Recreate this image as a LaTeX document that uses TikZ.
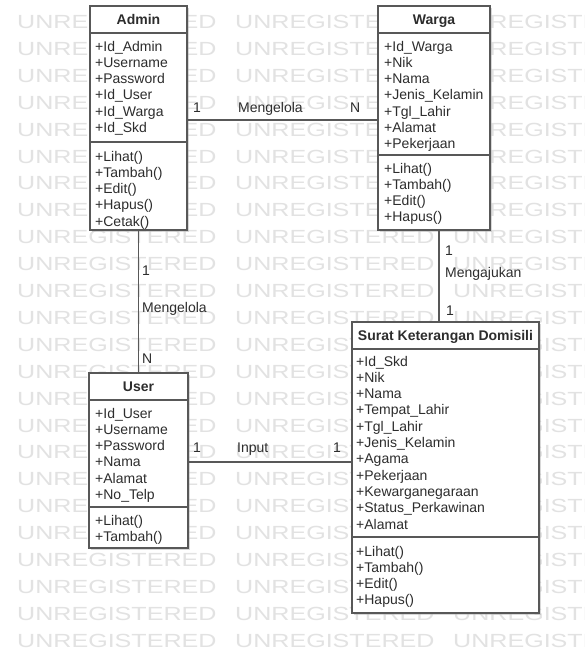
\documentclass[tikz,border=0pt]{standalone}
\usepackage{fontspec}
\setmainfont{Liberation Sans}
\usepackage{graphicx}
\usetikzlibrary{calc,shadows}

\definecolor{wmark}{RGB}{226,226,226}
\definecolor{edge}{RGB}{88,88,88}
\definecolor{ink}{RGB}{45,45,45}

\tikzset{
  classbox/.style={draw=edge, line width=1.3pt, fill=white, inner sep=0pt,
    outer sep=0pt, anchor=north west,
    drop shadow={shadow xshift=2pt, shadow yshift=-2pt, fill=black!30, opacity=0.5}},
  sepline/.style={draw=edge, line width=1.2pt},
  assoc/.style={draw=edge, line width=1.2pt},
  classtitle/.style={font=\fontsize{14pt}{16pt}\selectfont\bfseries, text=ink,
    inner sep=0pt, anchor=base},
  member/.style={font=\fontsize{14pt}{16pt}\selectfont, text=ink,
    inner sep=0pt, anchor=base west},
  rolelabel/.style={member},
  wm/.style={font=\fontsize{19pt}{21pt}\selectfont, text=wmark,
    inner sep=0pt, anchor=base west},
}

\begin{document}
\begin{tikzpicture}[x=1pt,y=-1pt]
\useasboundingbox (0,0) rectangle (585,657);
\fill[white] (0,0) rectangle (585,657);

% background stamp text
\begin{scope}
  \clip (0,0) rectangle (585,657);
  \foreach \r in {0,...,23} {
    \foreach \c/\xx in {1/17,2/235,3/453} {
      \node[wm] (wm-\r-\c) at (\xx, 28.5+26.9*\r) {\scalebox{1.32}[1]{UNREGISTERED}};
    }
  }
\end{scope}

% ---------- Admin ----------
\node[classbox, minimum width=97pt, minimum height=224pt] (admin) at (90,6) {};
\node[classtitle] (admin-t) at (138.5,24.5) {Admin};
\draw[sepline] (admin.west |- 0,33) -- (admin.east |- 0,33);
\draw[sepline] (admin.west |- 0,142) -- (admin.east |- 0,142);
\foreach \t [count=\i] in {+Id\_Admin,+Username,+Password,+Id\_User,+Id\_Warga,+Id\_Skd}
  \node[member] (admin-a\i) at (95, 51+16.3*\i-16.3) {\t};
\foreach \t [count=\i] in {+Lihat(),+Tambah(),+Edit(),+Hapus(),+Cetak()}
  \node[member] (admin-m\i) at (95, 161+16.3*\i-16.3) {\t};

% ---------- Warga ----------
\node[classbox, minimum width=112pt, minimum height=224pt] (warga) at (378,6) {};
\node[classtitle] (warga-t) at (434,24.5) {Warga};
\draw[sepline] (warga.west |- 0,33) -- (warga.east |- 0,33);
\draw[sepline] (warga.west |- 0,155) -- (warga.east |- 0,155);
\foreach \t [count=\i] in {+Id\_Warga,+Nik,+Nama,+Jenis\_Kelamin,+Tgl\_Lahir,+Alamat,+Pekerjaan}
  \node[member] (warga-a\i) at (384, 51+16.3*\i-16.3) {\t};
\foreach \t [count=\i] in {+Lihat(),+Tambah(),+Edit(),+Hapus()}
  \node[member] (warga-m\i) at (384, 173+16.3*\i-16.3) {\t};

% ---------- User ----------
\node[classbox, minimum width=99pt, minimum height=175pt] (user) at (89,373) {};
\node[classtitle] (user-t) at (138.5,391.5) {User};
\draw[sepline] (user.west |- 0,400) -- (user.east |- 0,400);
\draw[sepline] (user.west |- 0,507) -- (user.east |- 0,507);
\foreach \t [count=\i] in {+Id\_User,+Username,+Password,+Nama,+Alamat,+No\_Telp}
  \node[member] (user-a\i) at (95, 418+16.3*\i-16.3) {\t};
\foreach \t [count=\i] in {+Lihat(),+Tambah()}
  \node[member] (user-m\i) at (95, 525+16.3*\i-16.3) {\t};

% ---------- Surat Keterangan Domisili ----------
\node[classbox, minimum width=187pt, minimum height=291pt] (skd) at (352,322) {};
\node[classtitle] (skd-t) at (445.5,340.5) {Surat Keterangan Domisili};
\draw[sepline] (skd.west |- 0,349) -- (skd.east |- 0,349);
\draw[sepline] (skd.west |- 0,537) -- (skd.east |- 0,537);
\foreach \t [count=\i] in {+Id\_Skd,+Nik,+Nama,+Tempat\_Lahir,+Tgl\_Lahir,+Jenis\_Kelamin,+Agama,+Pekerjaan,+Kewarganegaraan,+Status\_Perkawinan,+Alamat}
  \node[member] (skd-a\i) at (356, 366+16.3*\i-16.3) {\t};
\foreach \t [count=\i] in {+Lihat(),+Tambah(),+Edit(),+Hapus()}
  \node[member] (skd-m\i) at (356, 556+16.3*\i-16.3) {\t};

% ---------- associations ----------
\draw[assoc] (admin.east |- 0,120) -- (warga.west |- 0,120);
\node[rolelabel] (aw-1) at (193,112) {1};
\node[rolelabel] (aw-name) at (238,112) {Mengelola};
\node[rolelabel] (aw-n) at (350,112) {N};

\draw[assoc] (admin.south) -- (user.north);
\node[rolelabel] (au-1) at (142,275) {1};
\node[rolelabel] (au-name) at (142,312) {Mengelola};
\node[rolelabel] (au-n) at (142,363) {N};

\draw[assoc] (warga.south -| 439,0) -- (skd.north -| 439,0);
\node[rolelabel] (ws-1) at (445,255) {1};
\node[rolelabel] (ws-name) at (445,277) {Mengajukan};
\node[rolelabel] (ws-2) at (446,315) {1};

\draw[assoc] (user.east |- 0,462) -- (skd.west |- 0,462);
\node[rolelabel] (us-1) at (193,452) {1};
\node[rolelabel] (us-name) at (237,452) {Input};
\node[rolelabel] (us-2) at (333,452) {1};
\end{tikzpicture}
\end{document}
